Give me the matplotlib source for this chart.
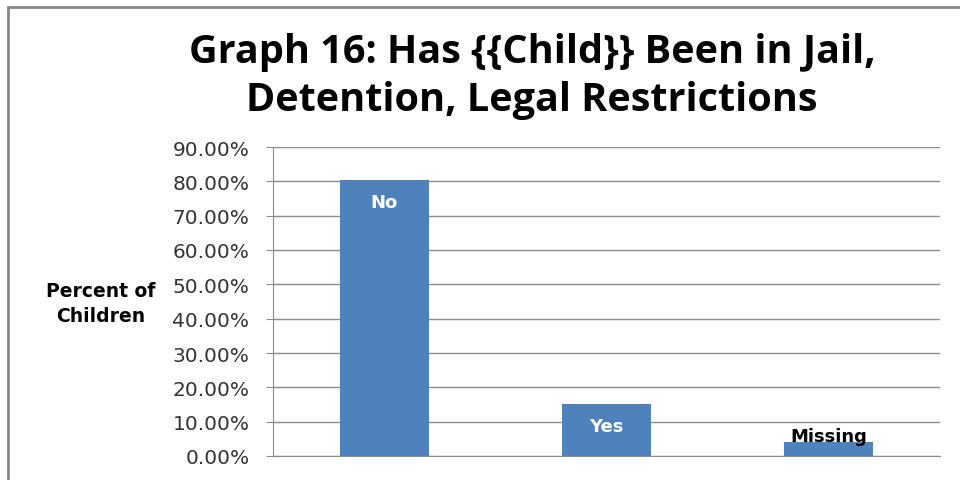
import matplotlib
matplotlib.use("Agg")
import matplotlib.pyplot as plt
from matplotlib.ticker import PercentFormatter
from matplotlib.patches import Rectangle

categories = ["No", "Yes", "Missing"]
percents = [0.804, 0.151, 0.041]
yticks = [0.0, 0.1, 0.2, 0.3, 0.4, 0.5, 0.6, 0.7, 0.8, 0.9]
title = "Graph 16: Has {{Child}} Been in Jail,\nDetention, Legal Restrictions"
ylabel = "Percent of\nChildren"

bar_color = "#4f81bd"
grid_color = "#8c8c8c"

fig = plt.figure(figsize=(9.6, 4.81), dpi=100)
# outer chart frame (cropped on right)
fig.patches.append(Rectangle((8 / 960, -0.01), 1.0, 1 - 8 / 481 + 0.01,
                             transform=fig.transFigure, fill=False,
                             edgecolor="#878787", linewidth=2))

ax = fig.add_axes([273 / 960, 1 - 457 / 481, (940 - 273) / 960, (457 - 148) / 481])
x = range(len(categories))
bars = ax.bar(x, percents, width=0.4, color=bar_color, zorder=3)
ax.set_xlim(-0.5, 2.5)
ax.set_ylim(0, 0.9)
ax.set_yticks(yticks)
ax.yaxis.set_major_formatter(PercentFormatter(1.0, decimals=2))
ax.yaxis.grid(True, color=grid_color, linewidth=1)
ax.set_axisbelow(True)
ax.set_xticks([])
for s in ["top", "right"]:
    ax.spines[s].set_visible(False)
ax.spines["left"].set_color(grid_color)
ax.spines["bottom"].set_color(grid_color)
ax.tick_params(axis="y", direction="inout", length=10, color=grid_color,
               labelsize=14.5, labelcolor="#333333", pad=12)
for lab in ax.get_yticklabels():
    lab.set_family("DejaVu Sans")

for i, (cat, v) in enumerate(zip(categories, percents)):
    if cat == "Missing":
        ax.text(i, v + 0.018, cat, ha="center", va="center", fontsize=13,
                fontweight="bold", color="black", zorder=4)
    else:
        ax.text(i, v - 0.065, cat, ha="center", va="center", fontsize=13,
                fontweight="bold", color="white", zorder=4)

fig.text(101 / 960, 1 - 304 / 481, ylabel, ha="center", va="center",
         fontsize=13.5, fontweight="bold", family="DejaVu Sans", linespacing=1.45)

fig.text(532 / 960, 1 - 76 / 481, title, ha="center", va="center",
         fontsize=28.5, fontweight="bold",
         family=["Open Sans", "DejaVu Sans"],
         linespacing=1.3)

fig.savefig("out.png", dpi=100)
